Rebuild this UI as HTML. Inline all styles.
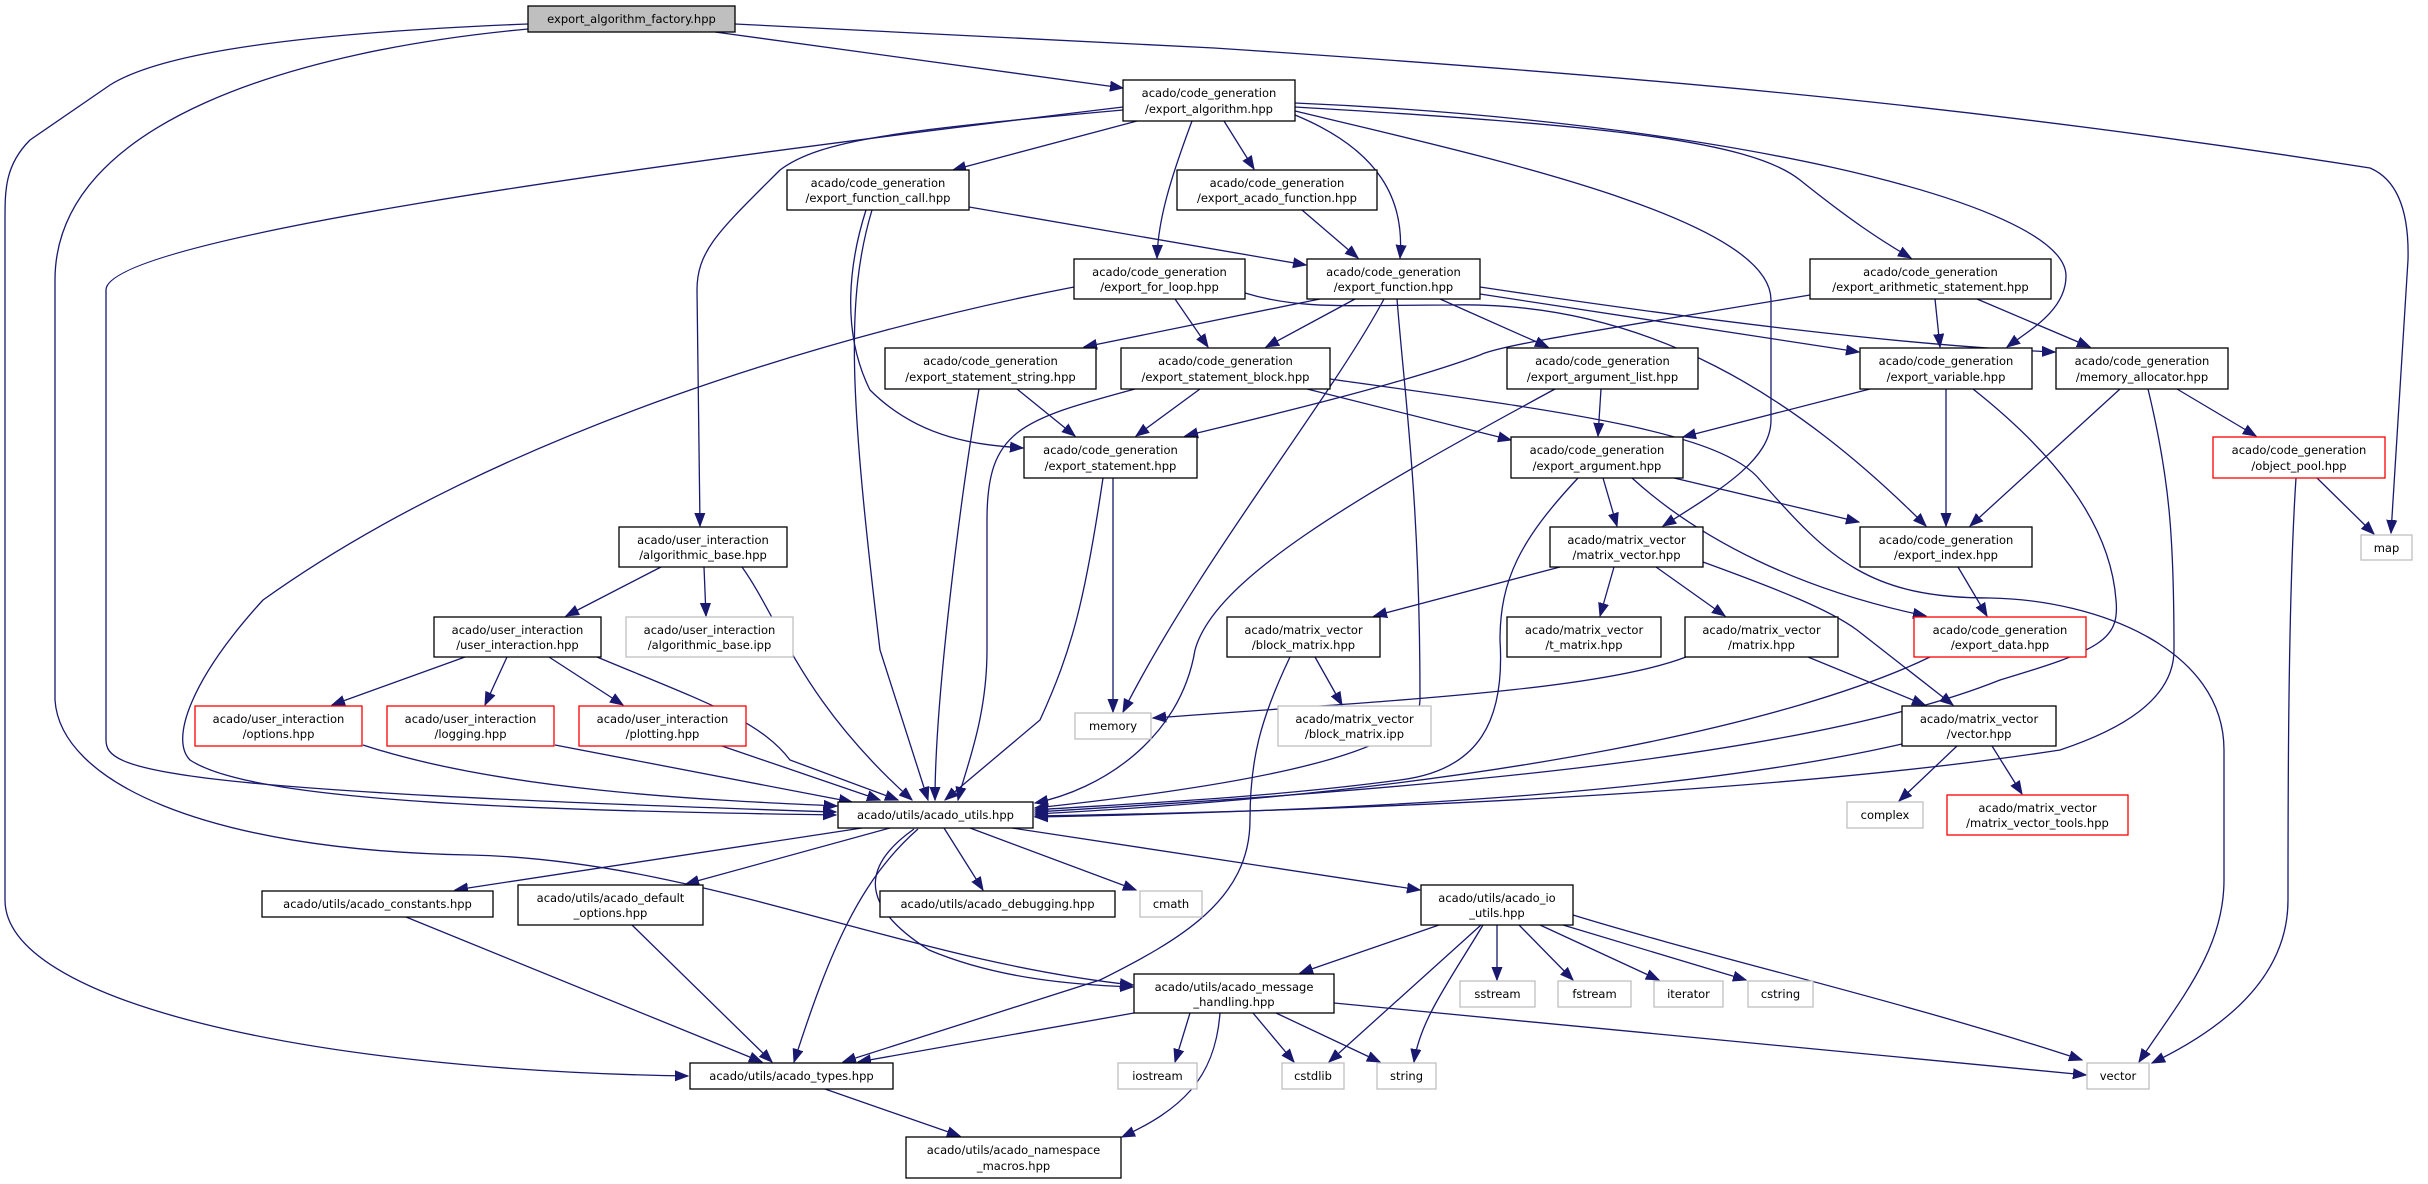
<!DOCTYPE html>
<html><head><meta charset="utf-8"><style>
html,body{margin:0;padding:0;background:#fff;}
svg{display:block;}
text{font-family:"DejaVu Sans","Liberation Sans",sans-serif;font-size:11.5px;fill:#000;text-anchor:middle;}
.e{fill:none;stroke:#191970;stroke-width:1.3;marker-end:url(#a);}
.b{fill:#fff;stroke:#000;stroke-width:1.3;}
.g{fill:#fff;stroke:#bfbfbf;stroke-width:1.3;}
.r{fill:#fff;stroke:#ff0000;stroke-width:1.3;}
</style></head><body>
<svg width="2428" height="1184" viewBox="0 0 2428 1184" xmlns="http://www.w3.org/2000/svg">
<defs><marker id="a" markerUnits="userSpaceOnUse" markerWidth="14" markerHeight="12" refX="13" refY="6" orient="auto"><path d="M0,1 L13,6 L0,11 z" fill="#191970" stroke="#191970"/></marker></defs>
<g>
<path class="e" d="M715,32 L1123,88"/>
<path class="e" d="M735,24 L1214,48 C1700,80 2000,110 2370,168 Q2410,185 2408,260 L2391,533"/>
<path class="e" d="M528,24 C250,35 150,60 110,85 L30,140 C5,165 5,190 5,220 L5,900 C5,1000 300,1070 688,1076"/>
<path class="e" d="M528,29 C300,50 55,120 55,280 L55,700 C60,780 200,850 470,855 C700,860 900,960 1133,985"/>
<path class="e" d="M1123,107 C600,170 106,240 106,290 L106,740 C106,770 150,790 836,812"/>
<path class="e" d="M1137,121 L953,170"/>
<path class="e" d="M1192,121 C1170,180 1158,220 1157,258"/>
<path class="e" d="M1123,110 C900,130 820,140 780,170 C720,230 697,250 697,290 L700,526"/>
<path class="e" d="M1224,121 L1254,169"/>
<path class="e" d="M1295,115 C1380,150 1405,200 1400,258"/>
<path class="e" d="M1295,111 C1500,160 1771,220 1771,300 L1771,420 C1771,460 1720,490 1663,526"/>
<path class="e" d="M1295,107 C1600,125 1750,140 1800,180 C1850,220 1880,240 1911,258"/>
<path class="e" d="M1295,103 C1700,120 2066,200 2066,276 C2066,310 2030,330 2007,347"/>
<path class="e" d="M969,207 L1306,265"/>
<path class="e" d="M866,210 C850,260 840,330 870,390 C920,440 980,445 1023,448"/>
<path class="e" d="M872,210 C845,300 850,400 880,650 L928,800"/>
<path class="e" d="M1302,210 L1358,258"/>
<path class="e" d="M1175,299 L1208,347"/>
<path class="e" d="M1074,287 C850,330 500,430 263,600 C190,680 170,740 190,760 C250,800 500,810 836,815"/>
<path class="e" d="M1245,293 C1300,310 1350,305 1450,305 C1650,300 1800,400 1926,526"/>
<path class="e" d="M1320,299 L1084,347"/>
<path class="e" d="M1355,299 L1266,347"/>
<path class="e" d="M1440,299 L1548,347"/>
<path class="e" d="M1480,294 L1859,352"/>
<path class="e" d="M1480,287 C1700,320 1900,345 2055,352"/>
<path class="e" d="M1384,299 C1330,400 1200,560 1123,712"/>
<path class="e" d="M1397,299 C1405,400 1420,500 1420,700 C1420,760 1200,790 1035,808"/>
<path class="e" d="M1810,295 C1600,330 1500,345 1480,355 C1400,385 1250,420 1185,436"/>
<path class="e" d="M1935,299 L1940,347"/>
<path class="e" d="M1977,299 L2090,347"/>
<path class="e" d="M1017,389 L1075,436"/>
<path class="e" d="M979,389 C960,500 935,700 935,800"/>
<path class="e" d="M1200,389 L1136,436"/>
<path class="e" d="M1135,389 C1020,420 987,430 987,520 L987,650 C987,720 965,770 958,800"/>
<path class="e" d="M1307,389 L1511,440"/>
<path class="e" d="M1330,379 C1550,410 1720,430 1760,480 C1830,560 1870,598 1990,598 C2100,600 2224,650 2224,750 L2224,880 C2224,950 2180,1000 2139,1062"/>
<path class="e" d="M1601,389 L1598,436"/>
<path class="e" d="M1555,389 C1350,500 1214,580 1195,650 C1180,740 1100,790 1035,803"/>
<path class="e" d="M1870,389 L1683,437"/>
<path class="e" d="M1946,389 L1946,526"/>
<path class="e" d="M1973,389 C2050,450 2110,520 2116,600 C2120,640 2100,650 2000,680 C1800,760 1400,790 1035,812"/>
<path class="e" d="M2120,389 L1970,526"/>
<path class="e" d="M2177,389 L2256,436"/>
<path class="e" d="M2148,389 C2170,480 2174,540 2174,650 C2174,700 2120,730 2060,750 C1800,790 1400,810 1035,816"/>
<path class="e" d="M1603,478 L1617,526"/>
<path class="e" d="M1674,478 L1859,522"/>
<path class="e" d="M1632,478 C1700,540 1800,590 1926,616"/>
<path class="e" d="M1578,478 C1520,540 1500,580 1500,640 C1505,720 1480,770 1400,780 C1250,800 1100,805 1035,810"/>
<path class="e" d="M1113,478 L1113,712"/>
<path class="e" d="M1103,478 C1085,600 1072,650 1040,720 L945,800"/>
<path class="e" d="M661,567 L566,616"/>
<path class="e" d="M704,567 L706,616"/>
<path class="e" d="M742,567 C780,620 800,700 912,800"/>
<path class="e" d="M465,657 L332,705"/>
<path class="e" d="M507,657 L485,705"/>
<path class="e" d="M549,657 L623,705"/>
<path class="e" d="M597,657 C700,700 760,720 790,760 L898,800"/>
<path class="e" d="M363,745 C500,790 700,800 837,806"/>
<path class="e" d="M555,745 L852,802"/>
<path class="e" d="M722,746 L880,800"/>
<path class="e" d="M1560,567 L1374,616"/>
<path class="e" d="M1614,567 L1600,616"/>
<path class="e" d="M1656,567 L1725,616"/>
<path class="e" d="M1703,562 C1780,590 1830,610 1857,630 L1953,705"/>
<path class="e" d="M1315,657 L1342,705"/>
<path class="e" d="M1290,657 C1260,720 1250,760 1250,820 C1250,900 1180,940 1100,980 L843,1062"/>
<path class="e" d="M1686,657 C1600,690 1400,700 1153,718"/>
<path class="e" d="M1808,657 L1925,705"/>
<path class="e" d="M1930,657 C1800,720 1500,790 1035,814"/>
<path class="e" d="M1958,567 L1987,616"/>
<path class="e" d="M1957,746 L1899,801"/>
<path class="e" d="M1992,746 L2022,794"/>
<path class="e" d="M1902,744 C1700,790 1400,810 1035,817"/>
<path class="e" d="M862,828 L455,890"/>
<path class="e" d="M890,828 L686,884"/>
<path class="e" d="M944,828 L983,890"/>
<path class="e" d="M970,828 L1136,890"/>
<path class="e" d="M1012,828 L1420,890"/>
<path class="e" d="M914,829 C870,860 850,900 929,950 C1000,980 1080,985 1133,987"/>
<path class="e" d="M918,829 C860,880 830,950 794,1062"/>
<path class="e" d="M406,917 L762,1062"/>
<path class="e" d="M632,925 L772,1062"/>
<path class="e" d="M1134,1013 L858,1062"/>
<path class="e" d="M1190,1013 L1175,1062"/>
<path class="e" d="M1220,1013 C1215,1080 1180,1110 1122,1137"/>
<path class="e" d="M1253,1013 L1294,1062"/>
<path class="e" d="M1276,1013 L1380,1062"/>
<path class="e" d="M1334,1003 L2086,1075"/>
<path class="e" d="M825,1089 L960,1136"/>
<path class="e" d="M1439,925 L1300,973"/>
<path class="e" d="M1481,925 L1329,1062"/>
<path class="e" d="M1483,925 C1450,980 1420,1020 1414,1062"/>
<path class="e" d="M1497,925 L1497,980"/>
<path class="e" d="M1519,925 L1573,980"/>
<path class="e" d="M1540,925 L1659,980"/>
<path class="e" d="M1563,925 L1746,980"/>
<path class="e" d="M1573,915 C1720,960 1900,1000 2082,1060"/>
<path class="e" d="M2317,478 L2374,534"/>
<path class="e" d="M2296,478 C2288,600 2288,800 2288,900 C2288,990 2200,1040 2152,1063"/>
</g>
<g>
<rect x="528" y="6" width="207" height="26" fill="#bfbfbf" stroke="#000" stroke-width="1.3"/><text x="631.5" y="23">export_algorithm_factory.hpp</text>
<rect class="b" x="1123" y="80" width="172" height="41"/><text x="1209" y="97">acado/code_generation</text><text x="1209" y="113">/export_algorithm.hpp</text>
<rect class="b" x="787" y="170" width="182" height="40"/><text x="878" y="187">acado/code_generation</text><text x="878" y="202">/export_function_call.hpp</text>
<rect class="b" x="1177" y="170" width="200" height="40"/><text x="1277" y="187">acado/code_generation</text><text x="1277" y="202">/export_acado_function.hpp</text>
<rect class="b" x="1074" y="259" width="171" height="40"/><text x="1159.5" y="276">acado/code_generation</text><text x="1159.5" y="291">/export_for_loop.hpp</text>
<rect class="b" x="1307" y="259" width="173" height="40"/><text x="1393.5" y="276">acado/code_generation</text><text x="1393.5" y="291">/export_function.hpp</text>
<rect class="b" x="1810" y="259" width="241" height="40"/><text x="1930.5" y="276">acado/code_generation</text><text x="1930.5" y="291">/export_arithmetic_statement.hpp</text>
<rect class="b" x="885" y="348" width="211" height="41"/><text x="990.5" y="365">acado/code_generation</text><text x="990.5" y="381">/export_statement_string.hpp</text>
<rect class="b" x="1121" y="348" width="209" height="41"/><text x="1225.5" y="365">acado/code_generation</text><text x="1225.5" y="381">/export_statement_block.hpp</text>
<rect class="b" x="1507" y="348" width="191" height="41"/><text x="1602.5" y="365">acado/code_generation</text><text x="1602.5" y="381">/export_argument_list.hpp</text>
<rect class="b" x="1860" y="348" width="172" height="41"/><text x="1946" y="365">acado/code_generation</text><text x="1946" y="381">/export_variable.hpp</text>
<rect class="b" x="2056" y="348" width="172" height="41"/><text x="2142" y="365">acado/code_generation</text><text x="2142" y="381">/memory_allocator.hpp</text>
<rect class="b" x="1024" y="437" width="173" height="41"/><text x="1110.5" y="454">acado/code_generation</text><text x="1110.5" y="470">/export_statement.hpp</text>
<rect class="b" x="1511" y="437" width="172" height="41"/><text x="1597" y="454">acado/code_generation</text><text x="1597" y="470">/export_argument.hpp</text>
<rect class="r" x="2213" y="437" width="172" height="41"/><text x="2299" y="454">acado/code_generation</text><text x="2299" y="470">/object_pool.hpp</text>
<rect class="b" x="619" y="527" width="168" height="40"/><text x="703" y="544">acado/user_interaction</text><text x="703" y="559">/algorithmic_base.hpp</text>
<rect class="b" x="1550" y="527" width="153" height="40"/><text x="1626.5" y="544">acado/matrix_vector</text><text x="1626.5" y="559">/matrix_vector.hpp</text>
<rect class="b" x="1860" y="527" width="172" height="40"/><text x="1946" y="544">acado/code_generation</text><text x="1946" y="559">/export_index.hpp</text>
<rect class="g" x="2361" y="535" width="51" height="25"/><text x="2386.5" y="552">map</text>
<rect class="b" x="434" y="617" width="167" height="40"/><text x="517.5" y="634">acado/user_interaction</text><text x="517.5" y="649">/user_interaction.hpp</text>
<rect class="g" x="626" y="617" width="167" height="40"/><text x="709.5" y="634">acado/user_interaction</text><text x="709.5" y="649">/algorithmic_base.ipp</text>
<rect class="b" x="1227" y="617" width="153" height="40"/><text x="1303.5" y="634">acado/matrix_vector</text><text x="1303.5" y="649">/block_matrix.hpp</text>
<rect class="b" x="1507" y="617" width="154" height="40"/><text x="1584" y="634">acado/matrix_vector</text><text x="1584" y="649">/t_matrix.hpp</text>
<rect class="b" x="1685" y="617" width="153" height="40"/><text x="1761.5" y="634">acado/matrix_vector</text><text x="1761.5" y="649">/matrix.hpp</text>
<rect class="r" x="1914" y="617" width="172" height="40"/><text x="2000" y="634">acado/code_generation</text><text x="2000" y="649">/export_data.hpp</text>
<rect class="r" x="195" y="706" width="167" height="40"/><text x="278.5" y="723">acado/user_interaction</text><text x="278.5" y="738">/options.hpp</text>
<rect class="r" x="387" y="706" width="167" height="40"/><text x="470.5" y="723">acado/user_interaction</text><text x="470.5" y="738">/logging.hpp</text>
<rect class="r" x="579" y="706" width="167" height="40"/><text x="662.5" y="723">acado/user_interaction</text><text x="662.5" y="738">/plotting.hpp</text>
<rect class="g" x="1075" y="713" width="76" height="26"/><text x="1113" y="730">memory</text>
<rect class="g" x="1278" y="706" width="153" height="40"/><text x="1354.5" y="723">acado/matrix_vector</text><text x="1354.5" y="738">/block_matrix.ipp</text>
<rect class="b" x="1902" y="706" width="154" height="40"/><text x="1979" y="723">acado/matrix_vector</text><text x="1979" y="738">/vector.hpp</text>
<rect class="b" x="838" y="802" width="195" height="26"/><text x="935.5" y="819">acado/utils/acado_utils.hpp</text>
<rect class="g" x="1847" y="802" width="76" height="26"/><text x="1885" y="819">complex</text>
<rect class="r" x="1947" y="795" width="181" height="40"/><text x="2037.5" y="812">acado/matrix_vector</text><text x="2037.5" y="827">/matrix_vector_tools.hpp</text>
<rect class="b" x="262" y="891" width="231" height="26"/><text x="377.5" y="908">acado/utils/acado_constants.hpp</text>
<rect class="b" x="518" y="885" width="185" height="40"/><text x="610.5" y="902">acado/utils/acado_default</text><text x="610.5" y="917">_options.hpp</text>
<rect class="b" x="880" y="891" width="235" height="26"/><text x="997.5" y="908">acado/utils/acado_debugging.hpp</text>
<rect class="g" x="1140" y="891" width="62" height="26"/><text x="1171" y="908">cmath</text>
<rect class="b" x="1421" y="885" width="152" height="40"/><text x="1497" y="902">acado/utils/acado_io</text><text x="1497" y="917">_utils.hpp</text>
<rect class="b" x="1134" y="974" width="200" height="39"/><text x="1234" y="991">acado/utils/acado_message</text><text x="1234" y="1006">_handling.hpp</text>
<rect class="g" x="1460" y="981" width="75" height="26"/><text x="1497.5" y="998">sstream</text>
<rect class="g" x="1558" y="981" width="73" height="26"/><text x="1594.5" y="998">fstream</text>
<rect class="g" x="1654" y="981" width="69" height="26"/><text x="1688.5" y="998">iterator</text>
<rect class="g" x="1748" y="981" width="65" height="26"/><text x="1780.5" y="998">cstring</text>
<rect class="b" x="690" y="1063" width="203" height="26"/><text x="791.5" y="1080">acado/utils/acado_types.hpp</text>
<rect class="g" x="1118" y="1063" width="79" height="26"/><text x="1157.5" y="1080">iostream</text>
<rect class="g" x="1282" y="1063" width="62" height="26"/><text x="1313" y="1080">cstdlib</text>
<rect class="g" x="1377" y="1063" width="59" height="26"/><text x="1406.5" y="1080">string</text>
<rect class="g" x="2087" y="1063" width="62" height="26"/><text x="2118" y="1080">vector</text>
<rect class="b" x="906" y="1137" width="215" height="41"/><text x="1013.5" y="1154">acado/utils/acado_namespace</text><text x="1013.5" y="1170">_macros.hpp</text>
</g>
</svg>
</body></html>
